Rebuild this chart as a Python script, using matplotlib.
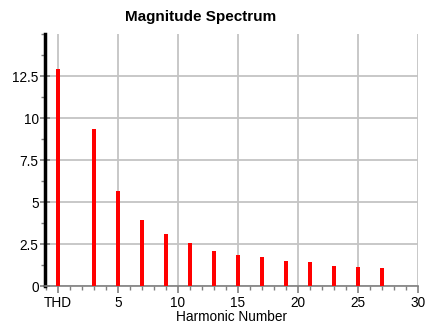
import matplotlib.pyplot as plt
from matplotlib.ticker import MultipleLocator

plt.rcParams['font.family'] = ['Liberation Sans', 'DejaVu Sans']

# harmonic number (0 = THD) and magnitudes
harmonics = [0, 3, 5, 7, 9, 11, 13, 15, 17, 19, 21, 23, 25, 27]
magnitudes = [12.92, 9.35, 5.65, 3.95, 3.12, 2.58, 2.1, 1.87, 1.7, 1.5, 1.4, 1.2, 1.15, 1.1]
x_ticks = [0, 5, 10, 15, 20, 25, 30]
x_labels = ['THD', '5', '10', '15', '20', '25', '30']
y_ticks = [0, 2.5, 5, 7.5, 10, 12.5]
y_labels = ['0', '2.5', '5', '7.5', '10', '12.5']

fig = plt.figure(figsize=(4.31, 3.27), dpi=100)
ax = fig.add_axes([45 / 431, 41 / 327, 373 / 431, 252 / 327])

ax.bar(harmonics, magnitudes, width=0.33, color='#ff0000', zorder=3)

ax.set_xlim(-1.08, 30)
ax.set_ylim(0, 15)
ax.set_xticks(x_ticks)
ax.set_xticklabels(x_labels)
ax.set_yticks(y_ticks)
ax.set_yticklabels(y_labels)
ax.xaxis.set_minor_locator(MultipleLocator(1))
ax.yaxis.set_minor_locator(MultipleLocator(1.25))

ax.grid(True, which='major', color='#c4c4c4', linewidth=1.3, zorder=0)
ax.set_axisbelow(True)

for s in ['top', 'right']:
    ax.spines[s].set_visible(False)
ax.spines['left'].set_linewidth(2.5)
ax.spines['left'].set_color('black')
ax.spines['bottom'].set_color('#808080')
ax.spines['bottom'].set_linewidth(1.2)

ax.tick_params(axis='y', which='major', direction='inout', length=7, width=1.2,
               color='#808080', labelsize=9.8, pad=1)
ax.tick_params(axis='y', which='minor', direction='out', length=3, width=1,
               color='#808080')
ax.tick_params(axis='x', which='major', direction='out', length=5, width=1.2,
               color='#808080', labelsize=9.8, pad=2)
ax.tick_params(axis='x', which='minor', direction='out', length=3, width=1,
               color='#808080')

ax.set_xlabel('Harmonic Number', fontsize=9.8, labelpad=0)
ax.set_title('Magnitude Spectrum', fontsize=11, fontweight='bold', pad=9, x=0.418)

fig.savefig('out.png', dpi=100)
